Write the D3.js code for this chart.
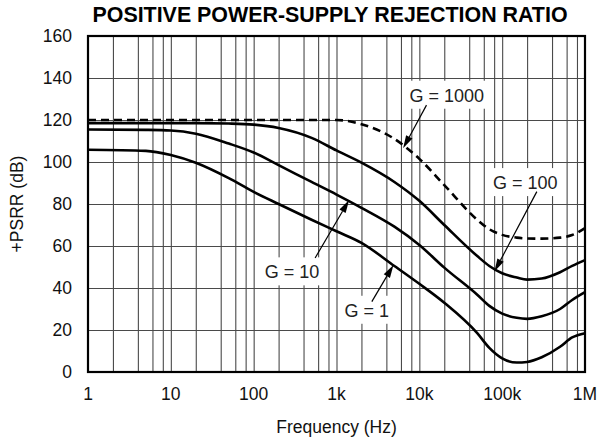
<!DOCTYPE html>
<html>
<head>
<meta charset="utf-8">
<script src="https://cdn.jsdelivr.net/npm/d3@7"></script>
<style>
  body { margin: 0; background: #fff; }
  svg { display: block; font-family: "Liberation Sans", Arial, Helvetica, sans-serif; }
</style>
</head>
<body>
<svg id="chart" width="598" height="443"></svg>
<script>
// frequency grid (Hz) shared by all curves
var freqs = [1, 5, 10, 20, 50, 100, 200, 500, 1e3, 2e3, 5e3, 1e4, 2e4, 5e4, 7e4, 1e5, 1.5e5, 2e5, 3e5, 5e5, 7e5, 1e6];

// +PSRR (dB) per gain
var g1000 = [120, 120, 120, 120, 120, 120, 120, 120, 120, 118, 111, 101.5, 89, 72.5, 68, 65.3, 64, 63.6, 63.5, 64, 65.2, 68.5];
var g100  = [118.5, 118.5, 118.5, 118.5, 118.3, 117.8, 116.2, 111.5, 105.5, 99.7, 90.5, 81.5, 70, 55.2, 50.5, 47, 45, 44, 44.5, 47.5, 50.5, 53.3];
var g10   = [115.5, 115.3, 115, 113.5, 108.8, 104.5, 98.5, 90.5, 84.5, 78.2, 69.2, 60.5, 49.7, 36.8, 31.5, 27.8, 25.8, 25.3, 26.5, 30, 34.3, 38];
var g1    = [105.8, 105.3, 103.3, 99.6, 92.3, 85.8, 80, 72.5, 67, 61.5, 50.5, 42, 33, 18.5, 11.5, 6.5, 4.5, 4.8, 7, 12, 16.5, 18.5];

var xTicks = [1, 10, 100, 1e3, 1e4, 1e5, 1e6];
var xTickLabels = ["1", "10", "100", "1k", "10k", "100k", "1M"];
var yTicks = [0, 20, 40, 60, 80, 100, 120, 140, 160];

// annotations: label text position, arrow tail, arrow tip (freq, dB)
var annText  = ["G = 1000", "G = 100", "G = 10", "G = 1"];
var annFreq  = [21400, 190000, 291, 2320];
var annDb    = [128.7, 87.1, 44.6, 26.3];
var tailFreq = [12200, 262000, 552, 2670];
var tailDb   = [127.1, 85.9, 54.3, 33.5];
var tipFreq  = [6370, 80700, 1420, 4870];
var tipDb    = [106.5, 47.8, 81.9, 51];

var svg = d3.select("#chart");
var pLeft = 88, pTop = 36, pRight = 585, pBottom = 372;

var x = d3.scaleLog().domain([1, 1e6]).range([pLeft, pRight]);
var y = d3.scaleLinear().domain([0, 160]).range([pBottom, pTop]);

// grid
var minor = [];
for (var d = 1; d < 1e6; d *= 10) {
    [1, 2, 4, 6, 8].forEach(function(m) { if (d * m > 1) minor.push(d * m); });
}
svg.append("g")
    .attr("transform", "translate(0," + pBottom + ")")
    .call(d3.axisBottom(x).tickValues(minor).tickSize(-(pBottom - pTop)).tickFormat(""))
    .call(function(g) {
        g.select(".domain").remove();
        g.selectAll("line").attr("stroke", "#4a4a4a").attr("stroke-width", 1.1);
    });
svg.append("g")
    .attr("transform", "translate(" + pLeft + ",0)")
    .call(d3.axisLeft(y).tickValues(yTicks).tickSize(-(pRight - pLeft)).tickFormat(""))
    .call(function(g) {
        g.select(".domain").remove();
        g.selectAll("line").attr("stroke", "#4a4a4a").attr("stroke-width", 1.1);
    });

// tick labels
svg.append("g").selectAll("text")
    .data(yTicks).enter().append("text")
    .attr("x", pLeft - 16)
    .attr("y", function(d) { return y(d); })
    .attr("dy", "0.36em")
    .attr("text-anchor", "end")
    .attr("font-size", 17.5)
    .attr("fill", "#111")
    .text(function(d) { return d; });

svg.append("g").selectAll("text")
    .data(xTicks).enter().append("text")
    .attr("x", function(d) { return x(d); })
    .attr("y", pBottom + 28)
    .attr("text-anchor", "middle")
    .attr("font-size", 17.5)
    .attr("fill", "#111")
    .text(function(d, i) { return xTickLabels[i]; });

// curves
var line = d3.line()
    .x(function(d) { return x(d[0]); })
    .y(function(d) { return y(d[1]); })
    .curve(d3.curveMonotoneX);

var series = [
    { v: g1000, dash: "8,5" },
    { v: g100, dash: null },
    { v: g10, dash: null },
    { v: g1, dash: null }
];
series.forEach(function(s) {
    svg.append("path")
        .datum(freqs.map(function(f, i) { return [f, s.v[i]]; }))
        .attr("d", line)
        .attr("fill", "none")
        .attr("stroke", "#000")
        .attr("stroke-width", 2.6)
        .attr("stroke-dasharray", s.dash);
});

// frame
svg.append("rect")
    .attr("x", pLeft).attr("y", pTop)
    .attr("width", pRight - pLeft).attr("height", pBottom - pTop)
    .attr("fill", "none").attr("stroke", "#000").attr("stroke-width", 2.2);

// annotations
annText.forEach(function(t, i) {
    var tx = x(annFreq[i]), ty = y(annDb[i]);
    var g = svg.append("g");
    var box = g.append("rect").attr("fill", "#fff");
    var txt = g.append("text")
        .attr("x", tx).attr("y", ty)
        .attr("text-anchor", "middle")
        .attr("font-size", 18)
        .attr("fill", "#222")
        .text(t);
    var bb = txt.node().getBBox();
    box.attr("x", bb.x - 4).attr("y", ty - 21)
        .attr("width", bb.width + 8).attr("height", 28);

    var x0 = x(tailFreq[i]), y0 = y(tailDb[i]);
    var x1 = x(tipFreq[i]), y1 = y(tipDb[i]);
    var ang = Math.atan2(y1 - y0, x1 - x0);
    var len = 13, hw = 3.6;
    var bx = x1 - len * Math.cos(ang), by = y1 - len * Math.sin(ang);
    svg.append("line")
        .attr("x1", x0).attr("y1", y0).attr("x2", bx).attr("y2", by)
        .attr("stroke", "#000").attr("stroke-width", 1.2);
    svg.append("path")
        .attr("d", "M" + x1 + "," + y1 +
            "L" + (bx + hw * Math.sin(ang)) + "," + (by - hw * Math.cos(ang)) +
            "L" + (bx - hw * Math.sin(ang)) + "," + (by + hw * Math.cos(ang)) + "Z")
        .attr("fill", "#000");
});

// titles
svg.append("text")
    .attr("x", 330).attr("y", 22)
    .attr("text-anchor", "middle")
    .attr("font-size", 21.4).attr("font-weight", "bold")
    .text("POSITIVE POWER-SUPPLY REJECTION RATIO");

svg.append("text")
    .attr("x", (pLeft + pRight) / 2).attr("y", 433)
    .attr("text-anchor", "middle")
    .attr("font-size", 17.5)
    .attr("fill", "#111")
    .text("Frequency (Hz)");

svg.append("text")
    .attr("transform", "translate(23," + (pTop + pBottom) / 2 + ") rotate(-90)")
    .attr("text-anchor", "middle")
    .attr("font-size", 17.5)
    .attr("fill", "#111")
    .text("+PSRR (dB)");
</script>
</body>
</html>
